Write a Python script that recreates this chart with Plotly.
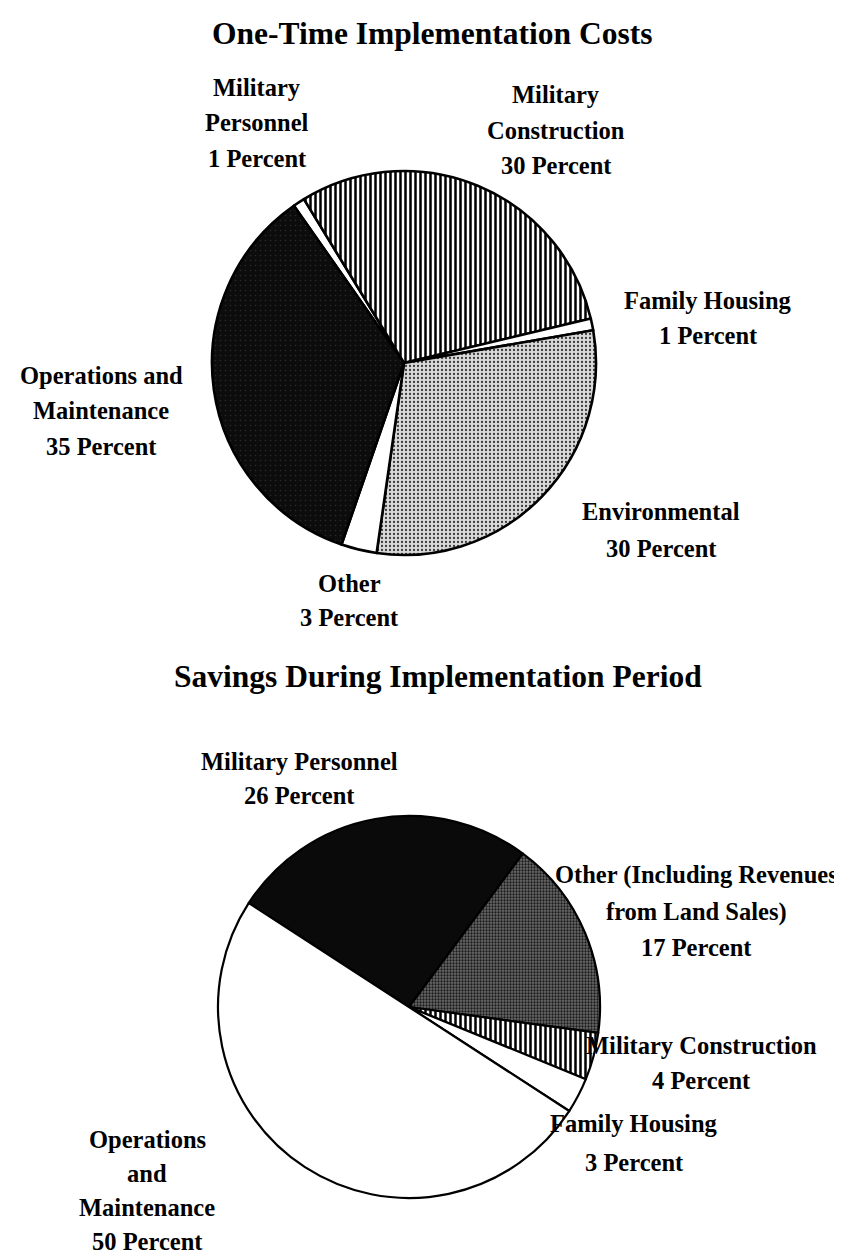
import plotly.graph_objects as go

W, H = 842, 1256

# ---------------- data ----------------
titles = ["One-Time Implementation Costs", "Savings During Implementation Period"]

cost_labels = ["Military Personnel", "Military Construction", "Family Housing",
               "Environmental", "Other", "Operations and Maintenance"]
cost_values = [1, 30, 1, 30, 3, 35]
cost_label_lines = [["Military", "Personnel"], ["Military", "Construction"],
                    ["Family Housing"], ["Environmental"], ["Other"],
                    ["Operations and", "Maintenance"]]

saving_labels = ["Military Personnel", "Other (Including Revenues from Land Sales)",
                 "Military Construction", "Family Housing", "Operations and Maintenance"]
saving_values = [26, 17, 4, 3, 50]
saving_label_lines = [["Military Personnel"], ["Other (Including Revenues", "from Land Sales)"],
                      ["Military Construction"], ["Family Housing"],
                      ["Operations", "and", "Maintenance"]]

# ---------------- styles ----------------
FONT = "Liberation Serif"
LABEL_SIZE = 24.5
TITLE_SIZE = 31.5

cost_colors = ["white", "white", "white", "#d9d9d9", "white", "#0c0c0c"]
cost_shapes = ["", "|", "", ".", "", "."]
cost_fg = ["black", "black", "black", "#3a3a3a", "black", "#2a2a2a"]
cost_size = [6, 5, 6, 4, 6, 5]
cost_sol = [0.3, 0.5, 0.3, 0.25, 0.3, 0.08]

saving_colors = ["#0a0a0a", "#6a6a6a", "white", "white", "white"]
saving_shapes = ["", ".", "|", "", ""]
saving_fg = ["black", "#1a1a1a", "black", "black", "black"]
saving_size = [6, 3, 5, 6, 6]
saving_sol = [0.3, 0.45, 0.5, 0.3, 0.3]

# pie geometry in pixels (center x, center y from top, radius, rotation, outline)
pies = [(396, 355, 192, -35, 2.6), (401, 999, 191, -57, 2.2)]

# label positions (center x, first-line y) in pixels
cost_pos = [(249, 80), (548, 87), (700, 292), (653, 503), (341, 575), (93, 367)]
saving_pos = [(291, 753), (688, 867), (693, 1037), (626, 1115), (139, 1131)]
cost_spacing = [35, 35, 35, 37, 35, 35.5]
saving_spacing = [34, 36.5, 35, 39, 34]

title_pos = [(424, 25), (430, 668)]


def dom(cx, cy, r):
    return dict(x=[(cx - r) / W, (cx + r) / W],
                y=[1 - (cy + r) / H, 1 - (cy - r) / H])


fig = go.Figure()

specs = [
    (cost_labels, cost_values, cost_colors, cost_shapes, cost_fg, cost_size, cost_sol),
    (saving_labels, saving_values, saving_colors, saving_shapes, saving_fg, saving_size, saving_sol),
]
for (labels, values, colors, shapes, fg, size, sol), (cx, cy, r, rot, lw) in zip(specs, pies):
    fig.add_trace(go.Pie(
        labels=labels, values=values, sort=False, direction="clockwise",
        rotation=rot, textinfo="none", hoverinfo="label+percent",
        showlegend=False, domain=dom(cx, cy, r),
        marker=dict(colors=colors,
                    line=dict(color="black", width=lw),
                    pattern=dict(shape=shapes, fgcolor=fg, bgcolor=colors,
                                 size=size, solidity=sol, fillmode="replace")),
    ))

annotations = []


def add_lines(lines, x, y0, dy, size=LABEL_SIZE):
    for i, t in enumerate(lines):
        annotations.append(dict(
            text=f"<b>{t}</b>", x=x / W, y=1 - (y0 + i * dy) / H,
            xref="paper", yref="paper", xanchor="center", yanchor="middle",
            borderpad=0, showarrow=False,
            font=dict(family=FONT, size=size, color="black")))


for lines, v, (x, y), dy in zip(cost_label_lines, cost_values, cost_pos, cost_spacing):
    add_lines(lines + [f"{v} Percent"], x, y, dy)
for lines, v, (x, y), dy in zip(saving_label_lines, saving_values, saving_pos, saving_spacing):
    add_lines(lines + [f"{v} Percent"], x, y, dy)
for t, (x, y) in zip(titles, title_pos):
    add_lines([t], x, y, 0, size=TITLE_SIZE)

fig.update_layout(
    width=W, height=H, margin=dict(l=0, r=0, t=0, b=0),
    paper_bgcolor="white", plot_bgcolor="white",
    annotations=annotations,
)

fig.write_html("out.html")
